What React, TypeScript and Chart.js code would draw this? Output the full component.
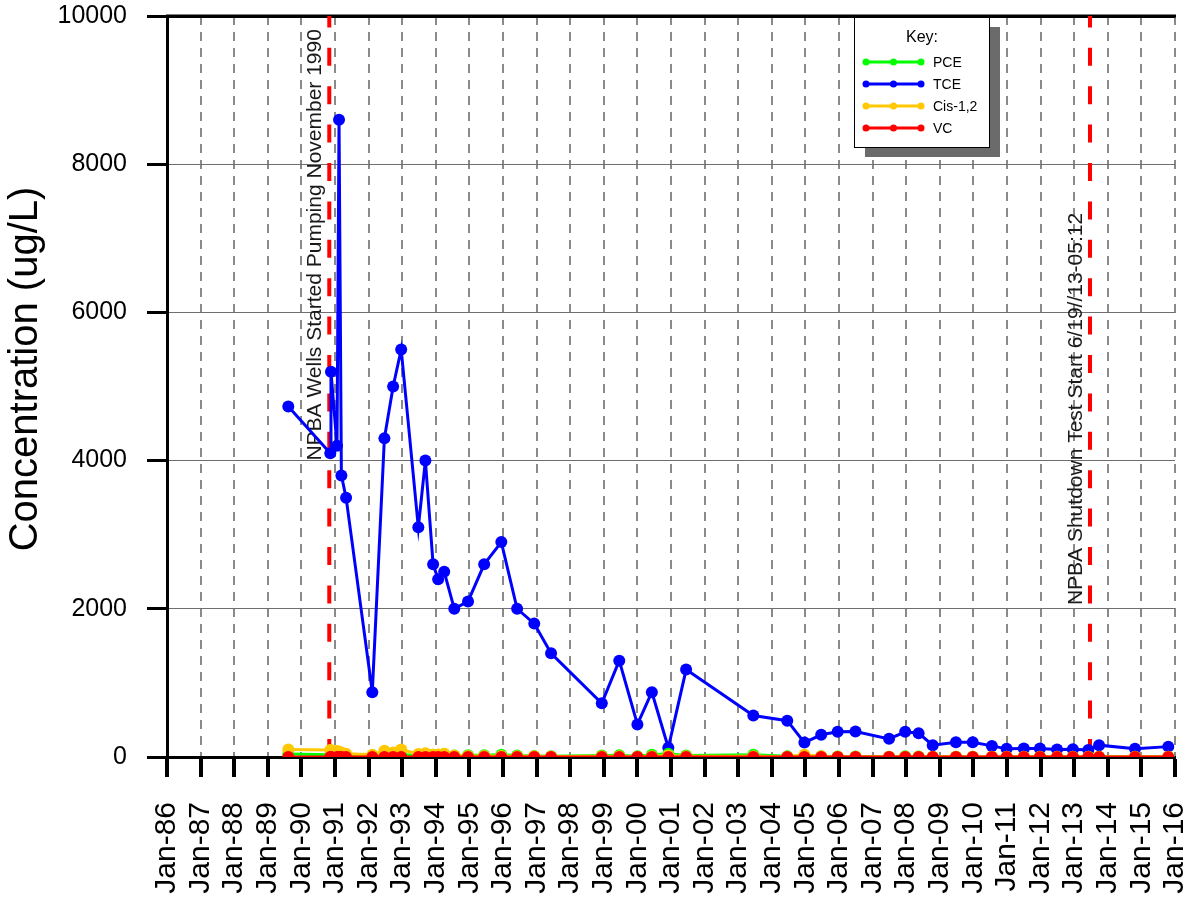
import React, { useEffect, useRef } from 'react';
import { Chart, registerables } from 'chart.js';

Chart.register(...registerables);

// Sampling dates (decimal years)
const sampleDates = [
  1989.61, 1990.86, 1990.88, 1991.06, 1991.12, 1991.19, 1991.33, 1992.11, 1992.47, 1992.73,
  1992.97, 1993.48, 1993.69, 1993.92, 1994.07, 1994.25, 1994.55, 1994.96, 1995.44, 1995.95,
  1996.42, 1996.93, 1997.43, 1998.94, 1999.46, 2000.0, 2000.43, 2000.92, 2001.45, 2003.45,
  2004.46, 2004.97, 2005.47, 2005.96, 2006.49, 2007.49, 2007.97, 2008.37, 2008.79, 2009.48,
  2009.98, 2010.55, 2010.99, 2011.5, 2011.98, 2012.49, 2012.96, 2013.42, 2013.74, 2014.81,
  2015.8,
];

const tceValues = [
  4730, 4100, 5200, 4200, 8600, 3800, 3500, 875, 4300, 5000,
  5500, 3100, 4000, 2600, 2400, 2500, 2000, 2100, 2600, 2900,
  2000, 1800, 1400, 725, 1300, 440, 875, 125, 1180, 560,
  490, 195, 300, 340, 345, 245, 340, 320, 160, 200,
  200, 150, 110, 115, 115, 100, 105, 95, 160, 110,
  140,
];

const pceValues = [
  40, 30, 30, 40, 50, 45, 30, 15, 30, 35,
  30, 25, 35, 30, 25, 40, 20, 25, 25, 30,
  20, 15, 10, 20, 25, 10, 30, 45, 20, 30,
  10, 15, 10, 8, 8, 5, 10, 8, 5, 5,
  5, 5, 5, 5, 5, 5, 5, 5, 5, 5,
  5,
];

const cisValues = [
  100, 95, 90, 80, 70, 60, 45, 30, 85, 60,
  100, 40, 50, 30, 35, 45, 20, 15, 15, 15,
  10, 10, 8, 10, 10, 5, 10, 20, 10, 10,
  5, 30, 10, 5, 5, 5, 5, 5, 3, 3,
  3, 3, 3, 3, 3, 3, 3, 3, 3, 3,
  3,
];

const vcValues = [
  0, 0, 0, 0, 0, 0, 0, 0, 0, 0,
  0, 0, 0, 0, 0, 0, 0, 0, 0, 0,
  0, 0, 0, 0, 0, 0, 0, 0, 0, 0,
  0, 0, 0, 0, 0, 0, 0, 0, 0, 0,
  0, 0, 0, 0, 0, 0, 0, 0, 0, 0,
  0,
];

const seriesNames = ['PCE', 'TCE', 'Cis-1,2', 'VC'];
const seriesColors = ['#00ff00', '#0000ff', '#ffc800', '#ff0000'];

const eventDates = [1990.83, 2013.47];
const eventLabels = [
  'NPBA Wells Started Pumping November 1990',
  'NPBA Shutdown Test Start 6/19//13-05:12',
];
const eventLabelStart = [4000, 2050];

const yTitle = 'Concentration (ug/L)';
const legendTitle = 'Key:';

const FONT = '"Liberation Sans", Arial, Helvetica, sans-serif';

const toPoints = (vals: number[]) => sampleDates.map((d, i) => ({ x: d, y: vals[i] }));

const overlayPlugin = {
  id: 'overlay',
  beforeDatasetsDraw(chart: any) {
    const { ctx, chartArea, scales } = chart;
    const x = scales.x;
    const y = scales.y;
    ctx.save();
    // top border
    ctx.strokeStyle = '#000';
    ctx.lineWidth = 3;
    ctx.beginPath();
    ctx.moveTo(chartArea.left - 1, y.getPixelForValue(10000));
    ctx.lineTo(chartArea.right + 1, y.getPixelForValue(10000));
    ctx.stroke();
    // event lines
    eventDates.forEach((d, i) => {
      const px = x.getPixelForValue(d);
      ctx.save();
      ctx.beginPath();
      ctx.rect(chartArea.left, chartArea.top, chartArea.right - chartArea.left, chartArea.bottom - chartArea.top);
      ctx.clip();
      ctx.strokeStyle = '#ff0000';
      ctx.lineWidth = 4;
      ctx.setLineDash([18, 20.4]);
      ctx.beginPath();
      ctx.moveTo(px, chartArea.bottom);
      ctx.lineTo(px, chartArea.top);
      ctx.stroke();
      ctx.restore();
      ctx.save();
      ctx.translate(px - 14, y.getPixelForValue(eventLabelStart[i]));
      ctx.rotate(-Math.PI / 2);
      ctx.fillStyle = '#1a1a1a';
      ctx.font = `21px ${FONT}`;
      ctx.textAlign = 'left';
      ctx.textBaseline = 'middle';
      ctx.fillText(eventLabels[i], 0, 0);
      ctx.restore();
    });
    ctx.restore();
  },
  afterDraw(chart: any) {
    const { ctx } = chart;
    ctx.save();
    // y title
    ctx.save();
    ctx.translate(26, 369);
    ctx.rotate(-Math.PI / 2);
    ctx.fillStyle = '#000';
    ctx.font = `40px ${FONT}`;
    ctx.textAlign = 'center';
    ctx.textBaseline = 'middle';
    ctx.fillText(yTitle, 0, 0);
    ctx.restore();

    // legend
    const bx = 854, by = 17, bw = 135, bh = 130;
    ctx.fillStyle = '#6b6b6b';
    ctx.fillRect(bx + 11, by + 10, bw, bh);
    ctx.fillStyle = '#fff';
    ctx.fillRect(bx, by, bw, bh);
    ctx.strokeStyle = '#000';
    ctx.lineWidth = 1;
    ctx.strokeRect(bx + 0.5, by + 0.5, bw, bh);
    ctx.fillStyle = '#000';
    ctx.font = `16px ${FONT}`;
    ctx.textAlign = 'center';
    ctx.textBaseline = 'middle';
    ctx.fillText(legendTitle, 922, 38);
    seriesNames.forEach((name, i) => {
      const ly = 62 + i * 22;
      ctx.strokeStyle = seriesColors[i];
      ctx.lineWidth = 3;
      ctx.beginPath();
      ctx.moveTo(866, ly);
      ctx.lineTo(921, ly);
      ctx.stroke();
      ctx.fillStyle = seriesColors[i];
      [866, 893.5, 921].forEach((cx) => {
        ctx.beginPath();
        ctx.arc(cx, ly, 3.5, 0, Math.PI * 2);
        ctx.fill();
      });
      ctx.fillStyle = '#000';
      ctx.font = `14px ${FONT}`;
      ctx.textAlign = 'left';
      ctx.fillText(name, 933, ly + 1);
    });
    ctx.restore();
  },
};

const zeroPad = (s: any) => {
  s.paddingLeft = 0;
  s.paddingRight = 0;
  s.paddingTop = 0;
  s.paddingBottom = 0;
};

export default function App() {
  const ref = useRef<HTMLCanvasElement>(null);
  useEffect(() => {
    document.body.style.margin = '0';
    Chart.defaults.font.family = FONT;
    const mk = (i: number, vals: number[], order: number) => ({
      label: seriesNames[i],
      data: toPoints(vals),
      borderColor: seriesColors[i],
      backgroundColor: seriesColors[i],
      borderWidth: 3,
      pointRadius: 6,
      pointBorderWidth: 0,
      pointBackgroundColor: seriesColors[i],
      tension: 0,
      order,
    });
    const chart = new Chart(ref.current!, {
      type: 'line',
      data: {
        datasets: [
          mk(0, pceValues, 2),
          mk(1, tceValues, 3),
          mk(2, cisValues, 1),
          mk(3, vcValues, 0),
        ],
      },
      options: {
        responsive: false,
        animation: false,
        layout: { padding: { left: 0, right: 16, top: 16, bottom: 0 } },
        plugins: { legend: { display: false }, tooltip: { enabled: false } },
        scales: {
          x: {
            type: 'linear',
            min: 1986,
            max: 2016,
            afterFit: (s: any) => { s.height = 143; zeroPad(s); },
            ticks: {
              stepSize: 1,
              autoSkip: false,
              minRotation: 90,
              maxRotation: 90,
              padding: 25,
              color: '#000',
              font: { size: 30, family: FONT },
              callback: (v: any) => 'Jan-' + String(Math.round(v) % 100).padStart(2, '0'),
            },
            grid: {
              color: '#8a8a8a',
              lineWidth: 2,
              tickColor: '#000',
              tickWidth: 4,
              tickLength: 20,
              tickBorderDash: [],
            },
            border: { color: '#000', width: 3, dash: [9, 7] },
          },
          y: {
            min: 0,
            max: 10000,
            afterFit: (s: any) => { s.width = 167; zeroPad(s); },
            ticks: {
              stepSize: 2000,
              padding: 20,
              color: '#000',
              font: { size: 25, family: FONT },
              callback: (v: any) => String(v),
            },
            grid: {
              color: (c: any) => (c.tick && c.tick.value === 10000 ? '#000' : '#6e6e6e'),
              lineWidth: (c: any) => (c.tick && c.tick.value === 10000 ? 3 : 1),
              tickColor: '#000',
              tickWidth: 3,
              tickLength: 20,
              tickBorderDash: [],
            },
            border: { color: '#000', width: 3 },
          },
        },
      },
      plugins: [overlayPlugin],
    } as any);
    return () => chart.destroy();
  }, []);
  return (
    <canvas
      ref={ref}
      width={1191}
      height={900}
      style={{ display: 'block', width: 1191, height: 900 }}
    />
  );
}
